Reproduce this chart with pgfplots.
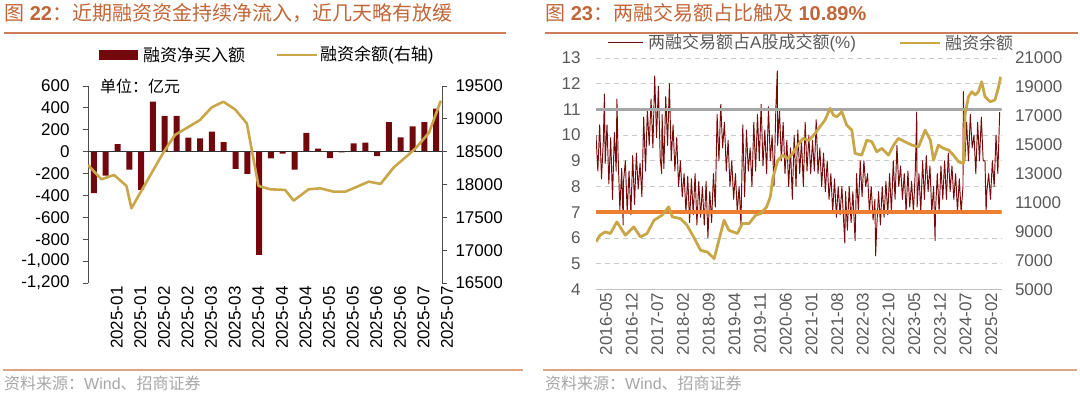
\documentclass[border=0pt]{standalone}
\usepackage{pgfplots}
\pgfplotsset{compat=1.18}
\usepackage{fontspec}
\setmainfont{Liberation Sans}
\newfontfamily\cjk{Noto Sans CJK SC}
\definecolor{barc}{RGB}{115,8,12}
\definecolor{gold}{RGB}{201,166,72}
\definecolor{ttl}{RGB}{192,102,56}
\definecolor{rulec}{RGB}{205,125,85}
\definecolor{lgray}{RGB}{166,166,166}
\definecolor{orng}{RGB}{237,125,49}
\definecolor{txt}{RGB}{89,89,89}
\definecolor{ratio}{RGB}{120,10,10}
\newcommand{\tks}{\fontsize{17bp}{20bp}\selectfont}
\pgfplotsset{every axis/.append style={scaled x ticks=false, scaled y ticks=false}}
\begin{document}
\begin{tikzpicture}
\path[use as bounding box] (0bp,0bp) rectangle (1080bp,396bp);
% titles
\node[anchor=west, text=ttl, inner sep=0] at (4bp,383bp) {\fontsize{20bp}{24bp}\selectfont{\cjk 图} \textbf{22}{\cjk ：近期融资资金持续净流入，近几天略有放缓}};
\node[anchor=west, text=ttl, inner sep=0] at (545bp,383bp) {\fontsize{20bp}{24bp}\selectfont{\cjk 图} \textbf{23}{\cjk ：两融交易额占比触及} \textbf{10.89\%}};
\draw[rulec, line width=2bp] (4bp,363bp) -- (506bp,363bp);
\draw[rulec, line width=2bp] (545bp,363bp) -- (1078bp,363bp);
\draw[rulec!70, line width=1.2bp] (3bp,26bp) -- (523bp,26bp);
\draw[rulec!70, line width=1.2bp] (543bp,26bp) -- (1077bp,26bp);
\node[anchor=west, text=lgray, inner sep=0] at (4bp,13bp) {\fontsize{16bp}{19bp}\selectfont{\cjk 资料来源：}Wind{\cjk 、招商证券}};
\node[anchor=west, text=lgray, inner sep=0] at (545bp,13bp) {\fontsize{16bp}{19bp}\selectfont{\cjk 资料来源：}Wind{\cjk 、招商证券}};

% ===== left chart =====
\begin{axis}[at={(88bp,113bp)}, anchor=south west, scale only axis, width=354bp, height=197bp,
  xmin=-0.5, xmax=29.5, ymin=-1200, ymax=600,
  axis y line*=left, axis x line*=bottom, x axis line style={draw=none},
  xtick={1,3,...,29},
  xticklabels={2025-01,2025-01,2025-02,2025-02,2025-03,2025-03,2025-04,2025-04,2025-04,2025-05,2025-05,2025-06,2025-06,2025-07,2025-07},
  xtick style={draw=none}, xticklabel style={rotate=90, anchor=east, font=\tks, yshift=-11bp},
  ytick={-1200,-1000,...,600},
  yticklabels={{-1,200},{-1,000},-800,-600,-400,-200,0,200,400,600},
  yticklabel style={font=\tks, xshift=-10bp},
  y axis line style={black!70, line width=0.8bp}, ytick style={black!70, line width=0.8bp},
  major tick length=5bp, ytick align=outside]
\addplot[ybar, bar width=6bp, fill=barc, draw=none] coordinates {
(0,-378)(1,-220)(2,70)(3,-165)(4,-350)(5,457)(6,326)(7,326)(8,128)(9,122)
(10,183)(11,88)(12,-158)(13,-204)(14,-944)(15,-62)(16,-18)(17,-164)(18,172)(19,27)
(20,-60)(21,-7)(22,76)(23,82)(24,-40)(25,270)(26,130)(27,230)(28,270)(29,393)};
\addplot[black!80, line width=0.9bp] coordinates {(-0.5,0) (29.5,0)};
\end{axis}
\begin{axis}[at={(88bp,113bp)}, anchor=south west, scale only axis, width=354bp, height=197bp,
  xmin=-0.5, xmax=29.5, ymin=16500, ymax=19500,
  axis y line*=right, axis x line=none,
  ytick={16500,17000,...,19500},
  yticklabels={16500,17000,17500,18000,18500,19000,19500},
  yticklabel style={font=\tks, xshift=5bp},
  y axis line style={black!70, line width=0.8bp}, ytick style={black!70, line width=0.8bp},
  major tick length=5bp, ytick align=outside]
\addplot[gold, line width=2.6bp, line join=round] coordinates {
(-0.5,18297)(0.63,18079)(1.71,18145)(2.76,17978)(3.18,17638)(5.93,18500)(6.87,18754)
(8.99,18982)(9.98,19174)(10.97,19261)(11.96,19144)(12.96,18931)(13.95,17978)(14.94,17927)
(16.21,17917)(16.92,17755)(18.2,17927)(19.19,17942)(20.32,17891)(21.31,17891)(22.3,17966)
(23.3,18044)(24.29,18008)(25.42,18262)(26.41,18414)(27.26,18551)(28.4,18789)(29.4,19276)};
\end{axis}
\fill[barc] (99bp,336bp) rectangle (138bp,346bp);
\node[anchor=west, inner sep=0] at (143bp,341bp) {\fontsize{17bp}{20bp}\selectfont\cjk 融资净买入额};
\draw[gold, line width=2.6bp] (277bp,341bp) -- (317bp,341bp);
\node[anchor=west, inner sep=0] at (320bp,341bp) {\fontsize{17bp}{20bp}\selectfont{\cjk 融资余额}({\cjk 右轴})};
\node[anchor=west, inner sep=0] at (100bp,310bp) {\fontsize{16bp}{19bp}\selectfont\cjk 单位：亿元};

% ===== right chart =====
\begin{axis}[at={(596bp,106.7bp)}, anchor=south west, scale only axis, width=405.5bp, height=231.3bp,
  xmin=0, xmax=110.5, ymin=4, ymax=13,
  axis line style={draw=none}, tick style={draw=none},
  ymajorgrids, grid style={lgray!60, dash pattern=on 5bp off 4bp, line width=0.8bp},
  ytick={4,...,13}, yticklabels={4,5,6,7,8,9,10,11,12,13},
  yticklabel style={font=\tks, text=txt, xshift=-12bp},
  xtick={0,7,...,105},
  xticklabels={2016-05,2016-12,2017-07,2018-02,2018-09,2019-04,2019-11,2020-06,2021-01,2021-08,2022-03,2022-10,2023-05,2023-12,2024-07,2025-02},
  xticklabel style={rotate=90, anchor=east, font=\tks, text=txt, yshift=-10bp}]
\addplot[lgray!70, line width=0.8bp] coordinates {(0,4) (110.5,4)};
\addplot[ratio, line width=0.95bp, line join=round] coordinates {
(0,10.0)(0.5,8.6)(1,10.4)(1.5,8.3)(2,9.8)(2.3,11.6)(2.5,8.9)(3,10.4)(3.5,8.1)(4,9.9)(4.5,7.5)(5,10.1)(5.5,8.6)(5.7,11.4)(6,9.3)(6.5,7.1)(7,8.7)(7.4,6.5)(7.5,8.2)(8,9.0)(8.5,7.0)(9,8.6)(9.5,6.9)(10,9.2)(10.5,7.3)(11,9.3)(11.5,7.9)(12,8.9)(12.5,7.6)(13,10.7)(13.5,8.6)(14,11.0)(14.5,9.6)(15,11.4)(15.5,9.5)(16,12.3)(16.5,9.9)(17,11.9)(17.5,9.1)(17.9,8.5)(18,10.8)(18.5,8.7)(19,11.5)(19.5,9.6)(20,12.0)(20.5,9.0)(21,10.4)(21.5,8.6)(22,9.9)(22.5,8.0)(23,9.0)(23.5,7.6)(24,8.5)(24.5,7.0)(25,8.4)(25.5,6.6)(26,8.3)(26.5,6.9)(27,8.5)(27.5,6.5)(28,8.2)(28.5,6.8)(29,8.0)(29.5,6.5)(30,8.2)(30.5,6.0)(31,7.8)(31.5,6.6)(32,8.5)(32.5,7.2)(33,10.8)(33.5,9.0)(34,11.2)(34.5,9.5)(35,10.5)(35.5,8.6)(36,9.8)(36.5,8.0)(37,9.0)(37.5,7.5)(38,8.5)(38.5,7.0)(39,8.0)(39.5,6.5)(40,10.4)(40.5,7.6)(41,10.2)(41.5,8.6)(42,9.5)(42.5,8.0)(43,10.5)(43.5,8.6)(44,10.8)(44.5,9.0)(45,11.2)(45.5,8.8)(46,10.2)(46.5,8.5)(47,11.1)(47.5,9.0)(48,10.0)(48.5,8.0)(49,11.0)(49.4,12.5)(49.5,9.6)(50,11.0)(50.5,9.0)(51,10.5)(51.5,8.5)(52,9.8)(52.5,8.0)(53,9.5)(53.5,7.5)(54,10.0)(54.5,8.0)(55,10.2)(55.5,8.5)(56,9.8)(56.5,8.0)(57,10.5)(57.5,8.6)(58,10.0)(58.5,8.5)(59,9.8)(59.5,8.6)(60,10.6)(60.5,8.5)(61,9.5)(61.5,8.0)(62,9.3)(62.5,7.8)(63,9.0)(63.5,7.5)(64,8.5)(64.5,7.0)(65,8.3)(65.5,6.8)(66,8.0)(66.5,6.9)(67,8.0)(67.5,6.6)(67.8,5.8)(68,7.8)(68.5,6.3)(69,8.0)(69.5,6.6)(70,7.8)(70.5,6.2)(70.6,5.9)(71,8.5)(71.5,7.0)(72,9.0)(72.5,7.6)(73,9.0)(73.5,8.0)(74,8.5)(74.5,7.0)(75,8.0)(75.5,6.7)(76,7.5)(76.2,5.3)(76.5,6.4)(77,7.8)(77.5,6.5)(78,8.0)(78.5,6.8)(79,8.2)(79.5,6.9)(80,8.5)(80.5,7.0)(81,9.0)(81.5,7.5)(82,9.6)(82.5,8.0)(83,8.8)(83.5,7.5)(84,8.5)(84.5,7.0)(85,8.6)(85.5,7.2)(86,8.2)(86.5,7.0)(87,8.6)(87.4,10.9)(87.5,7.2)(88,8.5)(88.5,7.0)(89,9.0)(89.5,7.5)(90,9.2)(90.5,7.8)(91,8.8)(91.5,7.0)(92,8.0)(92.4,5.9)(92.5,7.0)(93,8.5)(93.5,7.0)(94,8.8)(94.5,7.5)(95,9.0)(95.5,7.5)(96,9.3)(96.5,7.8)(97,8.8)(97.5,7.5)(98,8.5)(98.5,7.0)(99,8.3)(99.5,7.0)(100,8.0)(100.1,11.7)(100.5,9.0)(101,10.5)(101.5,9.0)(102,10.8)(102.5,9.5)(103,10.0)(103.5,8.5)(104,10.5)(104.5,9.0)(105,10.7)(105.5,9.0)(106,9.0)(106.3,7.0)(106.5,7.8)(107,8.5)(107.5,7.5)(108,9.0)(108.5,8.0)(109,10.0)(109.5,8.5)(110,10.89)};
\addplot[lgray, line width=3.6bp] coordinates {(0,11) (110.5,11)};
\addplot[orng, line width=3.6bp] coordinates {(0,7) (110.5,7)};
\end{axis}
\begin{axis}[at={(596bp,106.7bp)}, anchor=south west, scale only axis, width=405.5bp, height=231.3bp,
  xmin=0, xmax=110.5, ymin=5000, ymax=21000,
  axis y line*=right, axis x line=none,
  y axis line style={draw=none}, ytick style={draw=none},
  ytick={5000,7000,...,21000},
  yticklabels={5000,7000,9000,11000,13000,15000,17000,19000,21000},
  yticklabel style={font=\tks, text=txt, xshift=10bp}]
\addplot[gold, line width=2.8bp, line join=round] coordinates {
(0,8277)(1.1,8741)(2.5,8970)(3.9,8857)(5.7,9662)(8,8741)(10.3,9318)(12.1,8624)(13.9,8857)
(15.8,9778)(18,10126)(19.8,10703)(20.8,10010)(23,9893)(24.8,9430)(26.6,8624)(28.5,7700)
(30.3,7585)(32.2,7125)(33.5,8400)(34.9,9778)(36.2,9087)(38.5,8857)(39.9,9549)(41.7,9549)
(43.5,10126)(44.9,10242)(46.5,10700)(47.5,11400)(48.2,12700)(49.5,13900)(50.9,14280)
(52.2,14050)(53.6,14400)(55,14975)(56.4,15440)(58,15300)(59.7,15785)(61,16242)(62.4,16706)
(63.8,17516)(64.7,17052)(65.6,16935)(67,17281)(68.3,16360)(69.7,16013)(70.6,14400)
(72.4,14280)(73.8,15320)(75.2,15203)(76.5,14510)(77.9,14747)(79.7,14280)(81.1,14975)
(82.4,15440)(84.2,15203)(86.1,14975)(87.9,14856)(89.7,16013)(91.1,15320)(92,13935)
(93.3,14975)(94.7,14747)(96.1,14628)(97.4,14280)(98.8,13818)(100.1,13707)(100.6,17170)
(101.5,18320)(102.4,18666)(103.3,18437)(104.2,18666)(105.1,19359)(106,18320)(107.4,17974)
(108.7,18090)(109.6,18900)(110.3,19705)};
\end{axis}
\draw[ratio, line width=1bp] (608bp,353bp) -- (643bp,353bp);
\node[anchor=west, inner sep=0, text=txt] at (648bp,353bp) {\fontsize{17bp}{20bp}\selectfont{\cjk 两融交易额占}A{\cjk 股成交额}(\%)};
\draw[gold, line width=2.6bp] (900bp,353bp) -- (940bp,353bp);
\node[anchor=west, inner sep=0, text=txt] at (945bp,353bp) {\fontsize{17bp}{20bp}\selectfont\cjk 融资余额};
\end{tikzpicture}
\end{document}
